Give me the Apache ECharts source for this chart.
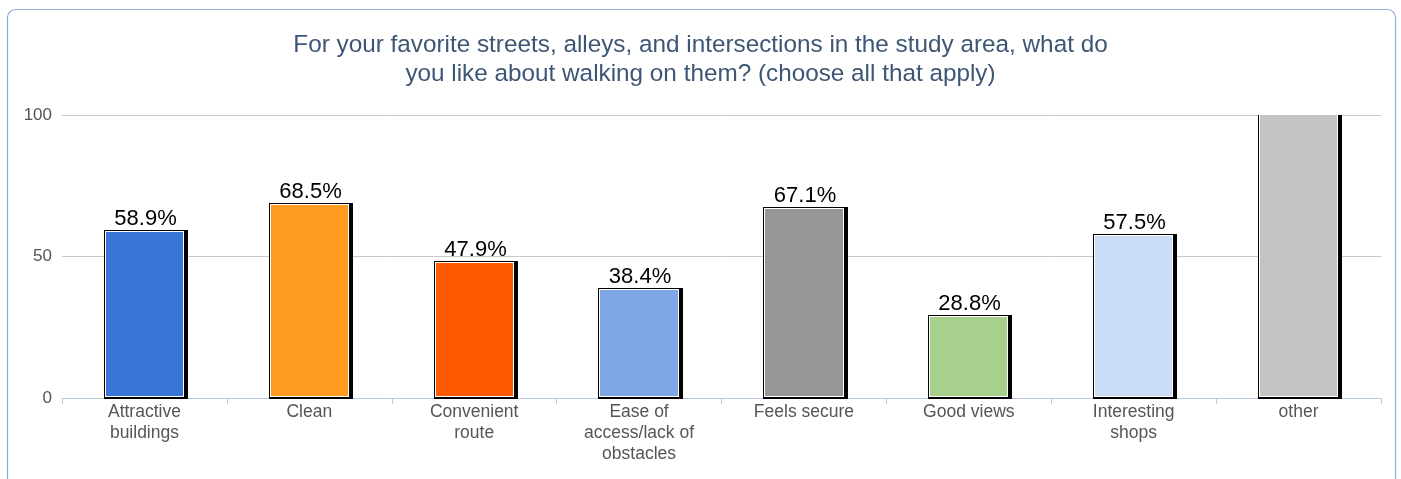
<!DOCTYPE html>
<html>
<head>
<meta charset="utf-8">
<script src="https://cdn.jsdelivr.net/npm/echarts@6/dist/echarts.min.js"></script>
<style>
  html, body { margin: 0; padding: 0; background: #fff; }
  #chart { width: 1401px; height: 479px; }
</style>
</head>
<body>
<div id="chart"></div>
<script>
  // data
  var categories = ['Attractive\nbuildings', 'Clean', 'Convenient\nroute', 'Ease of\naccess/lack of\nobstacles',
    'Feels secure', 'Good views', 'Interesting\nshops', 'other'];
  var values = [58.9, 68.5, 47.9, 38.4, 67.1, 28.8, 57.5, 102];
  var showLabel = [true, true, true, true, true, true, true, false];
  var barColors = ['#3a75d8', '#fd9a20', '#ff5a00', '#7fa6e6', '#969696', '#a8d08d', '#cadcf5', '#c3c3c4'];
  var yTicks = [0, 50, 100];

  var chart = echarts.init(document.getElementById('chart'));

  // bar with black outline + drop shadow on the right, thin white inner line
  function renderBar(params, api) {
    var idx = api.value(0);
    var val = api.value(1);
    var topPt = api.coord([idx, val]);
    var basePt = api.coord([idx, 0]);
    var w = api.size([1, 0])[0] * 0.48;
    var gridTop = params.coordSys.y;
    var top = Math.max(topPt[1], gridTop);
    var x0 = Math.round(topPt[0] - w / 2);
    var x1 = Math.round(topPt[0] + w / 2);
    var y0 = Math.round(top);
    var y1 = Math.round(basePt[1]);
    var clipped = topPt[1] < gridTop;
    var children = [
      {type: 'rect', shape: {x: x0 - 1, y: clipped ? y0 : y0 - 1, width: x1 - x0 + 5, height: y1 - y0 + (clipped ? 1 : 2)}, style: {fill: '#000'}},
      {type: 'rect', shape: {x: x0, y: y0, width: x1 - x0, height: y1 - y0 - 1}, style: {fill: '#fff'}},
      {type: 'rect', shape: {x: x0 + 1, y: clipped ? y0 : y0 + 1, width: x1 - x0 - 2, height: y1 - y0 - (clipped ? 2 : 3)}, style: {fill: barColors[idx]}}
    ];
    if (showLabel[idx]) {
      children.push({
        type: 'text',
        style: {
          text: val.toFixed(1) + '%', x: (x0 + x1) / 2 + 1, y: y0 - 1,
          align: 'center', verticalAlign: 'bottom',
          fontFamily: 'Liberation Sans', fontSize: 22, fill: '#000'
        }
      });
    }
    return {type: 'group', children: children};
  }

  var option = {
    animation: false,
    title: {
      text: 'For your favorite streets, alleys, and intersections in the study area, what do\nyou like about walking on them? (choose all that apply)',
      left: 'center',
      top: 26,
      textStyle: {
        fontFamily: 'Liberation Sans',
        fontSize: 24.3,
        fontWeight: 'normal',
        color: '#3e5675',
        lineHeight: 29
      }
    },
    graphic: [{
      type: 'rect',
      shape: {x: 7.5, y: 9.5, width: 1388, height: 490, r: 8},
      style: {fill: 'none', stroke: '#8fabd9', lineWidth: 1.2}
    }],
    grid: {left: 62, right: 20, top: 115, bottom: 81},
    xAxis: {
      type: 'category',
      data: categories,
      axisLine: {lineStyle: {color: '#b9cae3', width: 1}},
      axisTick: {show: true, length: 6, lineStyle: {color: '#b9cae3'}},
      axisLabel: {
        fontFamily: 'Liberation Sans',
        fontSize: 17.5,
        color: '#555',
        lineHeight: 21,
        margin: 4
      }
    },
    yAxis: {
      type: 'value',
      min: yTicks[0],
      max: yTicks[yTicks.length - 1],
      interval: 50,
      axisLine: {show: false},
      axisTick: {show: false},
      splitLine: {lineStyle: {color: '#c8c8c8'}},
      axisLabel: {
        fontFamily: 'Liberation Sans',
        fontSize: 17,
        color: '#555',
        margin: 10
      }
    },
    series: [{
      type: 'custom',
      renderItem: renderBar,
      data: values.map(function (v, i) { return [i, v]; }),
      encode: {x: 0, y: 1}
    }]
  };

  chart.setOption(option);
</script>
</body>
</html>
